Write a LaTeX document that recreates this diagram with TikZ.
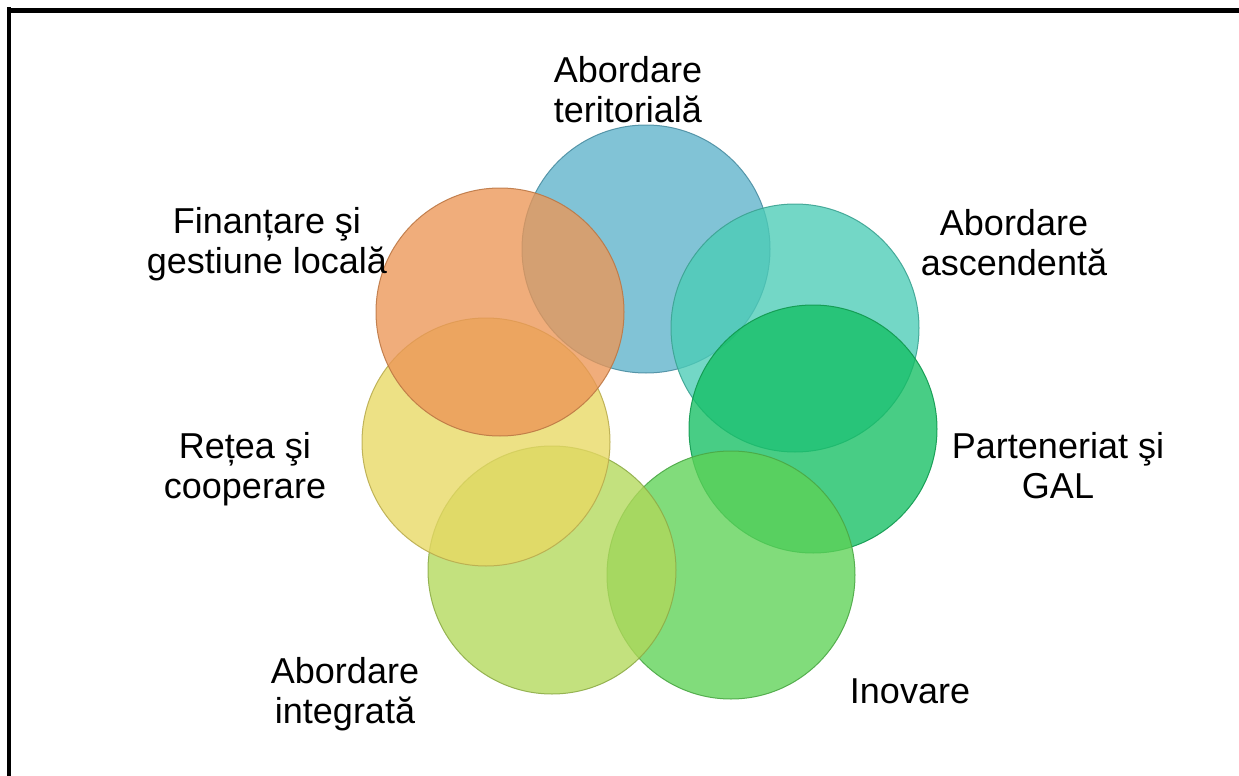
\documentclass[tikz,border=0pt]{standalone}
\usepackage{fontspec}
\setmainfont{Liberation Sans}
\usetikzlibrary{positioning}

\definecolor{terit}{RGB}{94,178,203}
\definecolor{asc}{RGB}{75,204,182}
\definecolor{part}{RGB}{20,191,99}
\definecolor{inov}{RGB}{94,210,86}
\definecolor{integ}{RGB}{178,216,90}
\definecolor{retea}{RGB}{232,216,99}
\definecolor{finant}{RGB}{236,150,86}

\begin{document}
\begin{tikzpicture}
[x=0.5pt,y=-0.5pt,
 every node/.style={inner sep=0mm,outer sep=0mm},
 disc/.style={circle,minimum size=124pt,fill opacity=0.78,draw opacity=0.9,line width=0.5pt},
 lbl/.style={align=center,font=\fontsize{18pt}{20pt}\selectfont,text=black}]
\useasboundingbox (0,0) rectangle (1239,776);

% frame: thick outer line, thin inner line along the top
\draw[line width=2pt]   (9,776) -- (9,7);
\draw[line width=1.5pt] (7,9)   -- (1239,9);
\draw[line width=0.65pt] (11,12) -- (1239,12);

\node[disc,fill=terit,draw=terit!80!black]   (terit)  at (646,249) {};
\node[disc,fill=asc,draw=asc!80!black]       (asc)    at (795,328) {};
\node[disc,fill=part,draw=part!80!black]     (part)   at (813,429) {};
\node[disc,fill=inov,draw=inov!80!black]     (inov)   at (731,575) {};
\node[disc,fill=integ,draw=integ!80!black]   (integ)  at (552,570) {};
\node[disc,fill=retea,draw=retea!80!black]   (retea)  at (486,442) {};
\node[disc,fill=finant,draw=finant!80!black] (finant) at (500,312) {};

\node[lbl] (territ-l) at (628,90)   {Abordare\\teritorială};
\node[lbl] (asc-l)    at (1014,243) {Abordare\\ascendentă};
\node[lbl] (part-l)   at (1058,466) {Parteneriat şi\\GAL};
\node[lbl] (inov-l)   at (910,691)  {Inovare};
\node[lbl] (integ-l)  at (345,694)  {Abordare\\integrată};
\node[lbl] (retea-l)  at (245,469)  {Rețea şi\\cooperare};
\node[lbl] (finant-l) at (267,244)  {Finanțare şi\\gestiune locală};
\end{tikzpicture}
\end{document}
